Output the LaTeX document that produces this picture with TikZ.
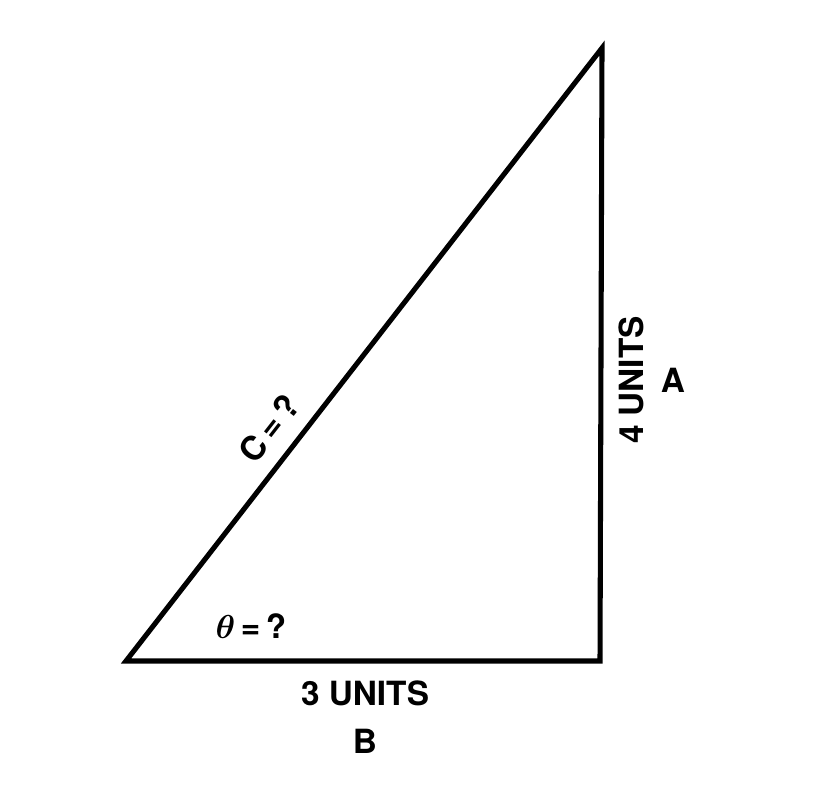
\documentclass[tikz,border=0pt]{standalone}
\usepackage{fontspec}
\setsansfont{TeX Gyre Heros}
\usetikzlibrary{positioning,calc}

\tikzset{
    lbl/.style={font=\sffamily\bfseries\fontsize{25}{28}\selectfont, inner sep=0pt},
    side/.style={line width=3.8pt, line join=miter}
}

\begin{document}
\begin{tikzpicture}[x=0.75pt, y=-0.75pt]
    \useasboundingbox (0,0) rectangle (816,803);
    % corners
    \coordinate (P) at (126,661);
    \coordinate (Q) at (600,661);
    \coordinate (R) at (602,48);
    \draw[side] (P) -- (Q) -- (R) -- cycle;

    % hypotenuse and angle
    \node[lbl, rotate=52] (hyp) at (269,428) {C\,=\,?};
    \node[lbl] (ang) at (251,626) {{\fontsize{31}{31}\selectfont\mathversion{bold}$\theta$}\,=\,?};

    % side B
    \node[lbl] (bval) at (365,693) {3 UNITS};
    \node[lbl] (bname) at (365,741) {B};

    % side A
    \node[lbl, rotate=90] (aval) at (631,380) {4 UNITS};
    \node[lbl] (aname) at (673,380) {A};
\end{tikzpicture}
\end{document}
